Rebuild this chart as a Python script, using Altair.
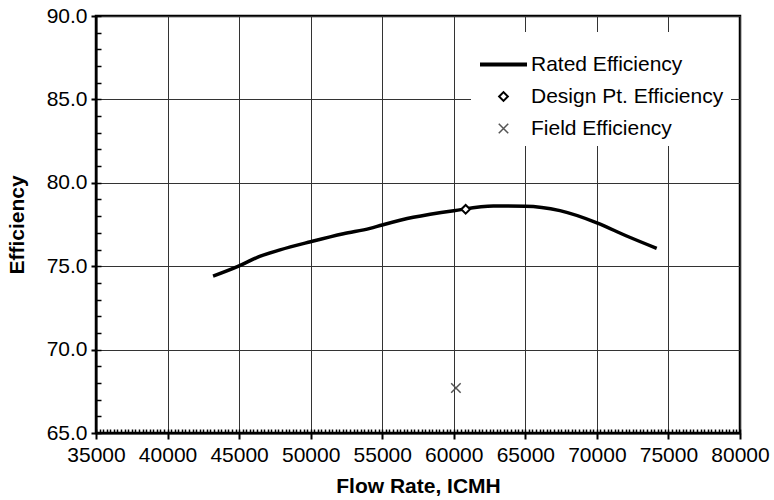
import altair as alt
import pandas as pd

# ---- data ----
flow_rate = [43180, 45000, 46230, 47860, 50000, 52290, 54150, 55000, 57170,
             60000, 62760, 65000, 67420, 70000, 72080, 74180]
rated_eff = [74.41, 75.02, 75.52, 75.98, 76.47, 76.95, 77.27, 77.47, 77.93,
             78.33, 78.61, 78.60, 78.33, 77.60, 76.81, 76.07]

design_flow = [60830]
design_eff = [78.41]
field_flow = [60150]
field_eff = [67.70]

series_names = ["Rated Efficiency", "Design Pt. Efficiency", "Field Efficiency"]

x_major = [35000, 40000, 45000, 50000, 55000, 60000, 65000, 70000, 75000, 80000]
y_major = [65, 70, 75, 80, 85, 90]
x_minor = list(range(35000, 80001, 250))
y_minor = list(range(65, 91))

FONT = "Liberation Sans"

line_df = pd.DataFrame({"flow": flow_rate, "eff": rated_eff})
pts_df = pd.DataFrame({
    "flow": design_flow + field_flow,
    "eff": design_eff + field_eff,
    "series": [series_names[1]] * len(design_flow) + [series_names[2]] * len(field_flow),
})

xs = alt.Scale(domain=[35000, 80000], nice=False, zero=False)
ys = alt.Scale(domain=[65, 90], nice=False, zero=False)

x_major_axis = alt.Axis(
    orient="bottom",
    values=x_major, format="d", grid=True, gridColor="#333", gridWidth=1,
    domainColor="black", domainWidth=2, tickColor="black", tickWidth=2, tickSize=6,
    labelFont=FONT, labelFontSize=21, labelColor="black", labelPadding=5,
    labelFlush=False, labelOverlap=False,
    title="Flow Rate, ICMH", titleFont=FONT, titleFontSize=21, titleFontWeight="bold",
    titleColor="black", titlePadding=10,
)
y_major_axis = alt.Axis(
    orient="left",
    values=y_major, format=".1f", grid=True, gridColor="#333", gridWidth=1,
    domainColor="black", domainWidth=2, tickColor="black", tickWidth=2, tickSize=5,
    labelFont=FONT, labelFontSize=21, labelColor="black", labelPadding=4,
    labelFlush=False, labelOverlap=False,
    title="Efficiency", titleFont=FONT, titleFontSize=21, titleFontWeight="bold",
    titleColor="black", titlePadding=19,
)
x_minor_axis = alt.Axis(
    orient="bottom",
    values=x_minor, labels=False, domain=False, grid=False, tickColor="black",
    tickWidth=1.5, tickSize=4, offset=-4, title=None, zindex=2,
)
y_minor_axis = alt.Axis(
    orient="left",
    values=y_minor, labels=False, domain=False, grid=False, tickColor="black",
    tickWidth=1.5, tickSize=5, offset=-5, title=None, zindex=2,
)

legend = alt.Legend(
    title=None, orient="none", legendX=375, legendY=16, fillColor="white",
    padding=7, rowPadding=10, labelOffset=2, labelFont=FONT, labelFontSize=21,
    labelColor="black", symbolOpacity=1, labelLimit=400,
)

line = alt.Chart(line_df).mark_line(
    color="black", strokeWidth=3.5, interpolate="monotone"
).encode(
    x=alt.X("flow:Q", scale=xs, axis=x_major_axis),
    y=alt.Y("eff:Q", scale=ys, axis=y_major_axis),
)

points = alt.Chart(pts_df).mark_point(filled=False, opacity=1).encode(
    x=alt.X("flow:Q", scale=xs, axis=x_minor_axis),
    y=alt.Y("eff:Q", scale=ys, axis=y_minor_axis),
    color=alt.Color("series:N", scale=alt.Scale(domain=series_names,
                                                range=["black", "black", "#555"]),
                    legend=legend),
    shape=alt.Shape("series:N", scale=alt.Scale(domain=series_names,
                                                range=["stroke", "diamond", "M-1,-1L1,1M1,-1L-1,1"]),
                    legend=legend),
    size=alt.Size("series:N", scale=alt.Scale(type="ordinal", domain=series_names,
                                              range=[2209, 76, 90]),
                  legend=legend),
    strokeWidth=alt.StrokeWidth("series:N", scale=alt.Scale(type="ordinal", domain=series_names,
                                                            range=[4, 2, 1.5]),
                                legend=legend),
    fill=alt.value("white"),
)

chart = alt.layer(line, points).resolve_axis(
    x="independent", y="independent"
).properties(
    width=644, height=417,
    autosize=alt.AutoSizeParams(type="none"),
    padding={"left": 96, "top": 16, "right": 34, "bottom": 67},
    background="white",
).configure_view(stroke="black", strokeWidth=2.5)

chart.save("out.html", embed_options={"renderer": "svg", "actions": False})
